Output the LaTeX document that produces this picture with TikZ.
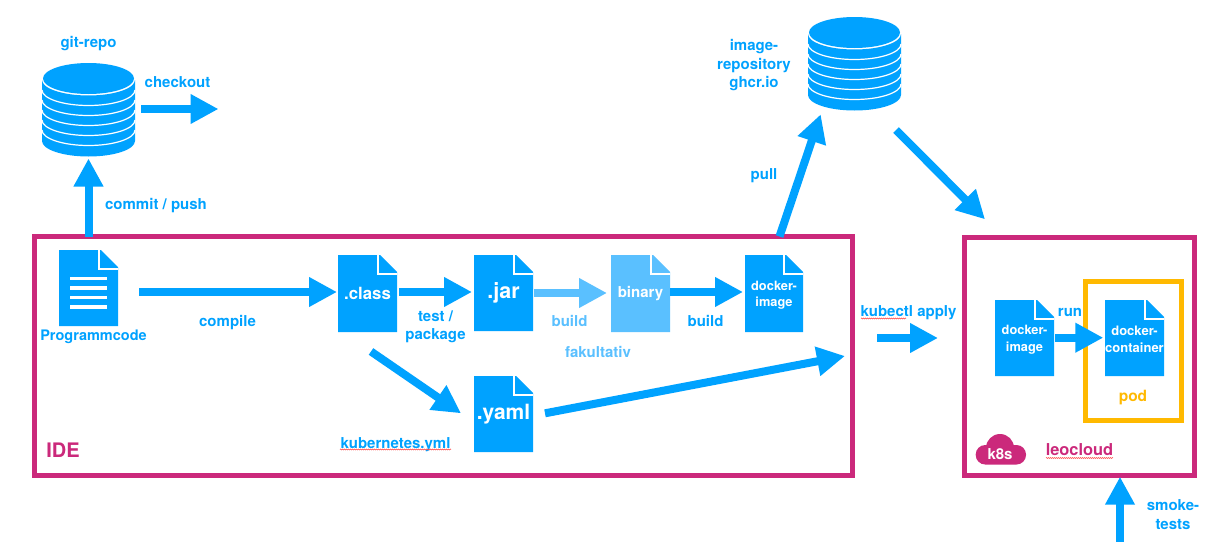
\documentclass[tikz,border=0pt]{standalone}
\usepackage{fontspec}
\setmainfont{TeX Gyre Heros}
\usetikzlibrary{arrows.meta,calc,decorations.pathmorphing}
\definecolor{kblue}{HTML}{00A2FF}
\definecolor{klight}{HTML}{5AC0FF}
\definecolor{kmag}{HTML}{CB297B}
\definecolor{kyel}{HTML}{FFB900}
\tikzset{
  fat/.style={draw=#1,line width=8pt,-{Triangle[length=28pt,width=28pt,fill=#1]}},
  fat/.default=kblue,
  lab/.style={text=#1,font=\bfseries\fontsize{15}{18.5}\selectfont,align=center,inner sep=0pt},
  lab/.default=kblue,
  frame/.style={draw=#1,line width=5pt,fill=none,inner sep=0pt,outer sep=0pt},
  doctext/.style={text=white,font=\bfseries\fontsize{#1}{16.5}\selectfont,align=center,inner sep=0pt,outer sep=0pt},
  squig/.style={draw=red!70,line width=0.6pt,decorate,decoration={zigzag,amplitude=0.5pt,segment length=2pt}}
}
% \docshape{name}{x1}{y1}{x2}{y2}{colour}{font size}{text}
\newcommand{\docshape}[8]{%
  \fill[#6] (#2,#3) -- ({#4-17},#3) -- (#4,{#3+17}) -- (#4,#5) -- (#2,#5) -- cycle;
  \draw[white,line width=1.5pt] ({#4-19},#3) -- ({#4-19},{#3+19}) -- (#4,{#3+19});
  \pgfmathsetmacro{\docw}{#4-#2}\pgfmathsetmacro{\doch}{#5-#3}
  \node[doctext=#7,minimum width=\docw pt,minimum height=\doch pt] (#1) at ({(#2+#4)/2},{(#3+#5)/2}) {#8};
}
% \cyl{name}{left}{top}
\newcommand{\cyl}[3]{%
  \begin{scope}[shift={(#2,#3)}]
    \fill[kblue] (0,17) -- (0,78) arc[start angle=180,end angle=0,x radius=46.5,y radius=15.5] -- (93,17) arc[start angle=0,end angle=180,x radius=46.5,y radius=15.5] -- cycle;
    \fill[kblue] (46.5,15.5) ellipse[x radius=45.5,y radius=15.5];
    \foreach \yy in {27,37,47,57,67}{
      \draw[white,line width=1.2pt] (0,\yy) arc[start angle=180,end angle=0,x radius=46.5,y radius=15.5];
    }
    \node[inner sep=0pt,outer sep=0pt,minimum width=93pt,minimum height=93pt] (#1) at (46.5,46.5) {};
  \end{scope}
}
\begin{document}
\begin{tikzpicture}[x=1pt,y=-1pt]
\useasboundingbox (0,0) rectangle (1232,557);
\fill[white] (0,0) rectangle (1232,557);

% frames
\node[frame=kmag,minimum width=818pt,minimum height=239pt] (ide) at (443.5,356) {};
\node[frame=kmag,minimum width=230pt,minimum height=238pt] (cloud) at (1079.5,356.5) {};
\node[frame=kyel,minimum width=96pt,minimum height=139pt] (pod) at (1133.5,351) {};

% repositories
\cyl{git}{42}{63}
\cyl{reg}{808}{17}

% documents
\docshape{prog}{59}{250}{118}{326}{kblue}{14}{}
\foreach \yy in {278.7,288,297.7,307}{\draw[white,line width=3.3pt] (70,\yy) -- (107,\yy);}
\docshape{class}{338}{255}{397}{332}{kblue}{16.8}{\raisebox{0.5pt}{.class}}
\docshape{jar}{474}{255}{533}{331}{kblue}{21.5}{\raisebox{-1pt}{.jar}}
\docshape{bin}{611}{255}{670}{332}{klight}{15}{\raisebox{-1pt}{binary}}
\docshape{dimg}{745}{255}{803}{332}{kblue}{12.8}{\rule{0pt}{12.4pt}docker-\\image}
\docshape{yaml}{474}{376}{533}{452}{kblue}{21}{\raisebox{-2.5pt}{.yaml}}
\docshape{rimg}{995}{300}{1054}{376}{kblue}{12.8}{\rule{0pt}{12.4pt}docker-\\image}
\docshape{cont}{1105}{300}{1164}{376}{kblue}{13}{\rule{0pt}{12.4pt}docker-\\container}

% connectors
\coordinate (checkoutend) at (218.5,109);
\draw[fat] ($(git.east)+(6,-0.5)$) -- (checkoutend);
\draw[fat] ($(ide.north west)+(54,0)$) -- ($(git.south)+(0,2.5)$);
\draw[fat] ($(prog.east)+(21,4)$) -- ($(class.west)+(-1,-1.5)$);
\draw[fat] ($(class.east)+(2,-1.5)$) -- ($(jar.west)+(-2,-1)$);
\draw[fat=klight] ($(jar.east)+(1,0)$) -- ($(bin.west)+(-4,-0.5)$);
\draw[fat] ($(bin.east)+(0,-1.5)$) -- ($(dimg.west)+(-2,-1.5)$);
\draw[fat] ($(class.south)+(3.5,19.5)$) -- ($(yaml.west)+(-13,-0.7)$);
\draw[fat] ($(yaml.east)+(12,-0.7)$) -- ($(ide.east)+(-7.5,0)$);
\draw[fat] ($(ide.north)+(336,0)$) -- ($(reg.south)+(-33.8,4.3)$);
\draw[fat] ($(reg.south)+(41.5,20)$) -- ($(cloud.north west)+(20.5,-18.2)$);
\coordinate (applystart) at (877,338);
\draw[fat] (applystart) -- ($(cloud.west)+(-26.5,-18.5)$);
\draw[fat] ($(rimg.east)+(1,-0.3)$) -- ($(cont.west)+(-1.7,-0.3)$);
\coordinate (smokestart) at (1120,541.7);
\draw[fat] (smokestart) -- ($(cloud.south)+(40.5,1.2)$);

% labels
\node[lab] (tgit) at (88.5,43.5) {git-repo};
\node[lab] (tcheckout) at (177.5,82) {checkout};
\node[lab] (tcommit) at (156,205.5) {commit / push};
\node[lab,font=\bfseries\fontsize{14.5}{18.5}\selectfont] (tprog) at (93.5,336.5) {Programmcode};
\node[lab] (tcompile) at (227.5,322.5) {compile};
\node[lab] (ttest) at (435.5,327) {test /\\package};
\node[lab=klight] (tbuild1) at (569.5,321) {build};
\node[lab] (tbuild2) at (705.5,321) {build};
\node[lab=klight] (tfak) at (598,352) {fakultativ};
\node[lab] (tk8s) at (395.5,444.5) {kubernetes.yml};
\node[lab,font=\bfseries\fontsize{20}{24}\selectfont,text=kmag] (tide) at (63,450.5) {IDE};
\node[lab] (trep) at (754,65.5) {image-\\repository\\ghcr.io};
\node[lab] (tpull) at (764,175.5) {pull};
\node[lab] (tapply) at (908.5,312.5) {kubectl apply};
\node[lab] (trun) at (1070,312) {run};
\node[lab=kyel,font=\bfseries\fontsize{15.5}{19}\selectfont] (tpod) at (1133,397.5) {pod};
\node[lab=kmag,font=\bfseries\fontsize{16.4}{19}\selectfont] (tleo) at (1079.5,450) {leocloud};
\node[lab] (tsmoke) at (1173,514.5) {smoke-\\tests};

% spell-check underlines
\coordinate (u1a) at (340,449.5); \coordinate (u1b) at (451,449.5);
\draw[squig] (u1a) -- (u1b);
\coordinate (u2a) at (861,318.5); \coordinate (u2b) at (906,318.5);
\draw[squig] (u2a) -- (u2b);
\coordinate (u3a) at (1046,458); \coordinate (u3b) at (1113,458);
\draw[squig] (u3a) -- (u3b);

% k8s cloud
\fill[kmag,rounded corners=9.5pt] (975.7,445) rectangle (1026,464.5);
\fill[kmag] (1000,448) circle[radius=14];
\node[doctext=15] (tk) at (1000,454) {k8s};
\end{tikzpicture}
\end{document}
